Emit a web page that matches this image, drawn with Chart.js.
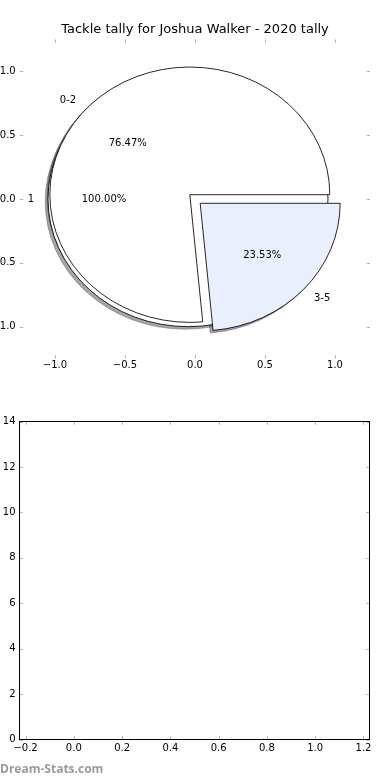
<!DOCTYPE html>
<html>
<head>
<meta charset="utf-8">
<script src="https://cdn.jsdelivr.net/npm/chart.js@4.4.1/dist/chart.umd.min.js"></script>
<style>
  html, body { margin: 0; padding: 0; background: #fff; overflow: hidden; }
  #wrap { position: relative; width: 390px; height: 780px; }
  #pieChart { position: absolute; left: 0; top: 0; }
  #emptyChart { position: absolute; left: 0; top: 390px; }
  #credit {
    position: absolute; left: 0; top: 763px;
    font: bold 12px/12px "Open Sans", sans-serif; color: #9a9a9a;
  }
</style>
</head>
<body>
<div id="wrap">
  <canvas id="pieChart" width="390" height="390"></canvas>
  <canvas id="emptyChart" width="390" height="390"></canvas>
  <div id="credit">Dream-Stats.com</div>
</div>
<script>
const chartTitle = "Tackle tally for Joshua Walker - 2020 tally";
const allLabels = ["1"];
const allValues = [17];
const tallyLabels = ["0-2", "3-5"];
const tallyValues = [13, 4];
const pieTicks = [-1.0, -0.5, 0.0, 0.5, 1.0];
const lowerXTicks = [-0.2, 0.0, 0.2, 0.4, 0.6, 0.8, 1.0, 1.2];
const lowerYTicks = [0, 2, 4, 6, 8, 10, 12, 14];

const allColors = ["#ffffff"];
const tallyColors = ["#ffffff", "#e9effc"];
const EXPLODE = 0.05;
const FONT = "DejaVu Sans";
const TICK_COLOR = "#b4b4b4";

function fmtDecimal(value) {
    const v = Number(value);
    return (v < -1e-9 ? "\u2212" : "") + Math.abs(v).toFixed(1);
}

function shadowColor(hex) {
    const n = parseInt(hex.slice(1), 16);
    const r = Math.round(((n >> 16) & 255) * 0.3);
    const g = Math.round(((n >> 8) & 255) * 0.3);
    const b = Math.round((n & 255) * 0.3);
    return `rgba(${r}, ${g}, ${b}, 0.5)`;
}

// pie wedges drawn as ellipses through the x/y scales (axes are not equal aspect)
const ellipsePie = {
    id: "ellipsePie",
    afterDatasetsDraw(chart, args, opts) {
        const { ctx } = chart;
        const xs = chart.scales.x;
        const ys = chart.scales.y;
        const px = (v) => xs.getPixelForValue(v);
        const py = (v) => ys.getPixelForValue(v);
        const rx = px(1) - px(0);
        const ry = py(0) - py(1);

        const wedges = [];
        opts.layers.forEach((layer) => {
            const total = layer.values.reduce((a, b) => a + b, 0);
            let start = 0;
            layer.values.forEach((value, i) => {
                const frac = value / total;
                const t1 = start * 360;
                const t2 = (start + frac) * 360;
                const mid = ((t1 + t2) / 2) * Math.PI / 180;
                wedges.push({
                    cx: EXPLODE * Math.cos(mid),
                    cy: EXPLODE * Math.sin(mid),
                    t1, t2, mid,
                    label: layer.labels[i],
                    pct: `${(frac * 100).toFixed(2)}%`,
                    color: layer.colors[i],
                });
                start += frac;
            });
        });

        const tracePath = (w, ox, oy) => {
            const cx = px(w.cx + ox);
            const cy = py(w.cy + oy);
            ctx.beginPath();
            if (w.t2 - w.t1 >= 359.999) {
                ctx.ellipse(cx, cy, rx, ry, 0, 0, Math.PI * 2);
            } else {
                ctx.moveTo(cx, cy);
                ctx.ellipse(cx, cy, rx, ry, 0, -w.t1 * Math.PI / 180, -w.t2 * Math.PI / 180, true);
            }
            ctx.closePath();
        };

        ctx.save();
        ctx.lineWidth = 0.85;
        ctx.lineJoin = "miter";

        wedges.forEach((w) => {
            tracePath(w, -0.02, -0.02);
            ctx.fillStyle = shadowColor(w.color);
            ctx.strokeStyle = shadowColor(w.color);
            ctx.fill();
            ctx.stroke();
        });

        wedges.forEach((w) => {
            tracePath(w, 0, 0);
            ctx.fillStyle = w.color;
            ctx.strokeStyle = "#000";
            ctx.fill();
            ctx.stroke();
        });

        ctx.fillStyle = "#000";
        ctx.font = `10px "${FONT}"`;
        ctx.textBaseline = "middle";
        wedges.forEach((w) => {
            const lx = w.cx + 1.1 * Math.cos(w.mid);
            const ly = w.cy + 1.1 * Math.sin(w.mid);
            ctx.textAlign = lx > 0 ? "left" : "right";
            ctx.fillText(w.label, px(lx), py(ly));

            const tx = w.cx + 0.6 * Math.cos(w.mid);
            const ty = w.cy + 0.6 * Math.sin(w.mid);
            ctx.textAlign = "center";
            ctx.fillText(w.pct, px(tx), py(ty));
        });
        ctx.restore();
    },
};

// inward tick marks on all four sides, plus optional frame
const innerTicks = {
    id: "innerTicks",
    afterDraw(chart, args, opts) {
        const { ctx, chartArea } = chart;
        const { left, right, top, bottom } = chartArea;
        const len = 3.3;
        ctx.save();
        ctx.strokeStyle = TICK_COLOR;
        ctx.lineWidth = 1;
        chart.scales.x.ticks.forEach((t) => {
            const x = Math.round(chart.scales.x.getPixelForValue(t.value)) + 0.5;
            ctx.beginPath();
            ctx.moveTo(x, bottom);
            ctx.lineTo(x, bottom - len);
            ctx.moveTo(x, top);
            ctx.lineTo(x, top + len);
            ctx.stroke();
        });
        chart.scales.y.ticks.forEach((t) => {
            const y = Math.round(chart.scales.y.getPixelForValue(t.value)) + 0.5;
            ctx.beginPath();
            ctx.moveTo(left, y);
            ctx.lineTo(left + len, y);
            ctx.moveTo(right, y);
            ctx.lineTo(right - len, y);
            ctx.stroke();
        });
        if (opts.frame) {
            ctx.strokeStyle = "#000";
            ctx.lineWidth = 1;
            ctx.strokeRect(left, top, right - left, bottom - top);
        }
        ctx.restore();
    },
};

function axisOptions(min, max, values, format, size, pad) {
    return {
        type: "linear",
        min,
        max,
        grid: { display: false, drawTicks: false },
        border: { display: false },
        ticks: {
            color: "#000",
            font: { family: FONT, size: 10 },
            padding: pad,
            autoSkip: false,
            maxRotation: 0,
            callback: format,
        },
        afterBuildTicks: (scale) => {
            scale.ticks = values.map((value) => ({ value }));
        },
        afterFit: (scale) => {
            if (scale.isHorizontal()) {
                scale.height = size;
            } else {
                scale.width = size;
            }
        },
    };
}

// empty right-hand axis that only reserves margin, so the title stays centred on the page
const rightSpacer = {
    type: "linear",
    position: "right",
    min: -1.25,
    max: 1.25,
    grid: { display: false, drawTicks: false },
    border: { display: false },
    ticks: { display: false },
    afterFit: (scale) => { scale.width = 20; },
};

new Chart(document.getElementById("pieChart"), {
    type: "scatter",
    data: { datasets: [] },
    options: {
        responsive: false,
        animation: false,
        layout: { padding: 0 },
        plugins: {
            legend: { display: false },
            tooltip: { enabled: false },
            title: {
                display: true,
                text: chartTitle,
                color: "#000",
                font: { family: FONT, size: 13, weight: "normal", lineHeight: 1.2 },
                padding: { top: 22.1, bottom: 1.7 },
            },
            ellipsePie: {
                layers: [
                    { labels: allLabels, values: allValues, colors: allColors },
                    { labels: tallyLabels, values: tallyValues, colors: tallyColors },
                ],
            },
            innerTicks: { frame: false },
        },
        scales: {
            x: axisOptions(-1.25, 1.25, pieTicks, fmtDecimal, 31.4, 0.5),
            y: axisOptions(-1.25, 1.25, pieTicks, fmtDecimal, 20, 4.3),
            yRight: rightSpacer,
        },
    },
    plugins: [ellipsePie, innerTicks],
});

new Chart(document.getElementById("emptyChart"), {
    type: "scatter",
    data: { datasets: [] },
    options: {
        responsive: false,
        animation: false,
        layout: { padding: { left: 0, right: 20.5, top: 31.5, bottom: 0 } },
        plugins: {
            legend: { display: false },
            tooltip: { enabled: false },
            innerTicks: { frame: true },
        },
        scales: {
            x: axisOptions(-0.225, 1.225, lowerXTicks, fmtDecimal, 40.5, 3),
            y: axisOptions(0, 14, lowerYTicks, (v) => String(v), 19.5, 4),
        },
    },
    plugins: [innerTicks],
});
</script>
</body>
</html>
